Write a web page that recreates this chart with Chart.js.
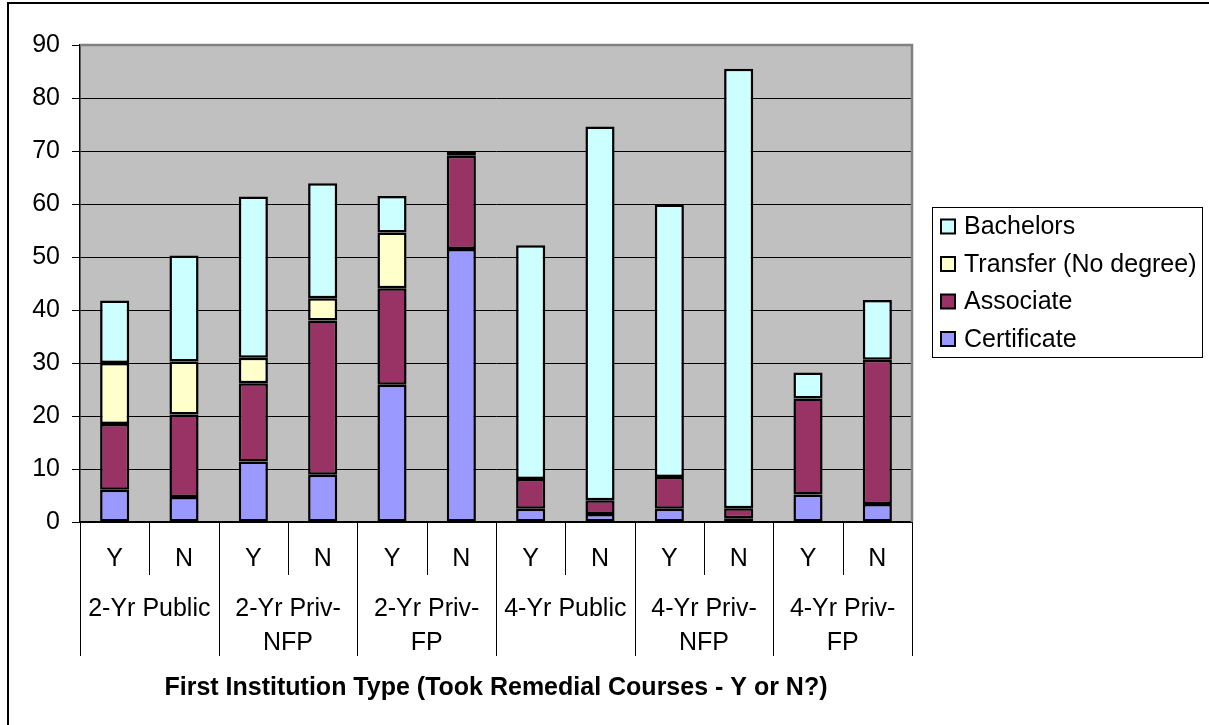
<!DOCTYPE html>
<html><head><meta charset="utf-8">
<script src="https://cdn.jsdelivr.net/npm/chart.js@4.4.1/dist/chart.umd.min.js"></script>
<style>html,body{margin:0;padding:0;background:#fff;}canvas{display:block;}</style>
</head><body>
<canvas id="c" width="1209" height="725"></canvas>
<script>
// ---- data ----
const remedialLabels = ['Y','N','Y','N','Y','N','Y','N','Y','N','Y','N'];
const institutionGroups = [['2-Yr Public'],['2-Yr Priv-','NFP'],['2-Yr Priv-','FP'],['4-Yr Public'],['4-Yr Priv-','NFP'],['4-Yr Priv-','FP']];
const certificate = [6.1, 4.7, 11.4, 8.9, 25.9, 51.5, 2.5, 1.5, 2.5, 0.7, 5.2, 3.4];
const associate   = [12.4, 15.6, 14.8, 29.1, 18.2, 17.6, 5.6, 2.6, 6.0, 1.9, 18.1, 27.2];
const transfer    = [11.5, 10.0, 4.8, 4.2, 10.5, 0, 0, 0, 0, 0, 0, 0];
const bachelors   = [11.8, 20.0, 30.4, 21.7, 6.9, 0.8, 44.1, 70.5, 51.4, 82.9, 4.9, 11.3];
const yMin = 0, yMax = 90, yStep = 10;
const axisTitle = 'First Institution Type (Took Remedial Courses - Y or N?)';

const FONT = "'Liberation Sans', Arial, sans-serif";
const FS = 25;

const bgPlugin = {
  id: 'bg',
  beforeDraw(chart) {
    const {ctx, chartArea: a} = chart;
    ctx.save();
    ctx.fillStyle = '#fff';
    ctx.fillRect(0, 0, chart.width, chart.height);
    ctx.fillStyle = '#C0C0C0';
    ctx.fillRect(a.left, a.top, a.right - a.left, a.bottom - a.top);
    ctx.restore();
  },
  afterDatasetsDraw(chart) {
    const {ctx, chartArea: a} = chart;
    ctx.save();
    ctx.strokeStyle = '#808080';
    ctx.lineWidth = 2.5;
    ctx.beginPath();
    ctx.moveTo(a.left, a.top);
    ctx.lineTo(a.right, a.top);
    ctx.lineTo(a.right, a.bottom);
    ctx.stroke();
    ctx.restore();
  },
  afterDraw(chart) {
    const {ctx, chartArea: a} = chart;
    const xs = chart.scales.x;
    ctx.save();
    // category separators
    ctx.strokeStyle = '#000';
    ctx.lineWidth = 1;
    const n = remedialLabels.length;
    const bounds = [];
    for (let i = 0; i <= n; i++) {
      let px;
      if (i === 0) px = xs.left;
      else if (i === n) px = xs.right;
      else px = (xs.getPixelForValue(i - 1) + xs.getPixelForValue(i)) / 2;
      bounds.push(px);
    }
    bounds.forEach((px, i) => {
      const len = (i % 2 === 0) ? 134 : 53;
      const x = Math.round(px) + 0.5;
      ctx.beginPath();
      ctx.moveTo(x, a.bottom);
      ctx.lineTo(x, a.bottom + len);
      ctx.stroke();
    });
    // group labels
    ctx.fillStyle = '#000';
    ctx.font = FS + 'px ' + FONT;
    ctx.textAlign = 'center';
    ctx.textBaseline = 'middle';
    institutionGroups.forEach((lines, g) => {
      const cx = (xs.getPixelForValue(2 * g) + xs.getPixelForValue(2 * g + 1)) / 2;
      lines.forEach((t, k) => ctx.fillText(t, cx, a.bottom + 87 + k * 34));
    });
    // legend
    const lx = 932, ly = 207, lw = 270, lh = 150;
    ctx.fillStyle = '#fff';
    ctx.fillRect(lx, ly, lw, lh);
    ctx.strokeStyle = '#000';
    ctx.lineWidth = 1;
    ctx.strokeRect(lx + 0.5, ly + 0.5, lw, lh);
    const items = chart.data.datasets.slice().reverse();
    ctx.textAlign = 'left';
    items.forEach((ds, k) => {
      const cy = ly + 19.5 + k * 37.5;
      ctx.fillStyle = ds.backgroundColor;
      ctx.fillRect(941, cy - 7, 14, 14);
      ctx.lineWidth = 2;
      ctx.strokeStyle = '#000';
      ctx.strokeRect(941, cy - 7, 14, 14);
      ctx.fillStyle = '#000';
      ctx.fillText(ds.label, 964, cy + 1);
    });
    // outer frame
    ctx.lineWidth = 2;
    ctx.strokeStyle = '#000';
    ctx.strokeRect(8, 3, 1400, 900);
    ctx.restore();
  }
};

const mk = (label, data, color) => ({
  label, data: data.map(v => (v === 0 ? null : v)), backgroundColor: color, borderColor: '#000', borderWidth: 2.5,
  borderSkipped: false, barPercentage: 0.42, categoryPercentage: 1.0
});

new Chart(document.getElementById('c'), {
  type: 'bar',
  data: {
    labels: remedialLabels,
    datasets: [
      mk('Certificate', certificate, '#9999FF'),
      mk('Associate', associate, '#993366'),
      mk('Transfer (No degree)', transfer, '#FFFFCC'),
      mk('Bachelors', bachelors, '#CCFFFF')
    ]
  },
  options: {
    responsive: false,
    animation: false,
    devicePixelRatio: 1,
    layout: { padding: { left: 0, right: 297, top: 45, bottom: 0 } },
    plugins: { legend: { display: false }, tooltip: { enabled: false } },
    scales: {
      x: {
        stacked: true,
        grid: { display: false },
        border: { display: true, color: '#000', width: 1.5 },
        ticks: { color: '#000', font: { family: FONT, size: FS }, padding: 14, maxRotation: 0, autoSkip: false },
        title: { display: true, text: axisTitle, color: '#000',
                 font: { family: FONT, size: FS, weight: 'bold' }, padding: { top: 0, bottom: 22 } },
        afterFit(s) { s.height = 203; }
      },
      y: {
        stacked: true,
        min: yMin, max: yMax,
        grid: { color: '#000', lineWidth: 1, tickLength: 8, drawTicks: true, tickColor: '#000' },
        border: { display: true, color: '#000', width: 1.5 },
        ticks: { stepSize: yStep, color: '#000', font: { family: FONT, size: FS }, padding: 12 },
        afterFit(s) { s.width = 80; }
      }
    }
  },
  plugins: [bgPlugin]
});
</script>
</body></html>
